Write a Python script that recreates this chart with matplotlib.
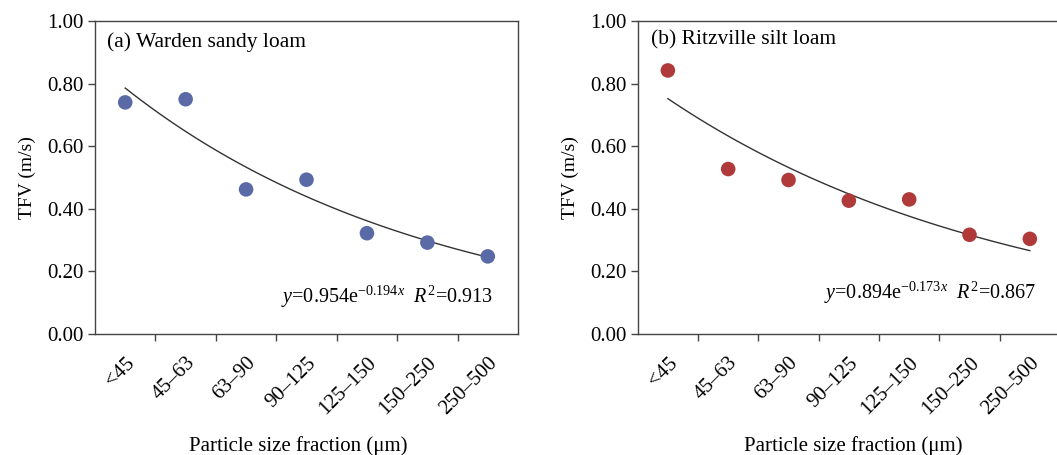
import matplotlib
matplotlib.use("Agg")
import matplotlib.pyplot as plt
import matplotlib.transforms as mtransforms
import numpy as np

plt.rcParams['font.family'] = ['Liberation Serif', 'DejaVu Serif']
plt.rcParams['mathtext.fontset'] = 'custom'
plt.rcParams['mathtext.rm'] = 'Liberation Serif'
plt.rcParams['mathtext.it'] = 'Liberation Serif:italic'

# data
size_fractions = ['<45', '45\u201363', '63\u201390', '90\u2013125', '125\u2013150', '150\u2013250', '250\u2013500']
tfv_warden = [0.740, 0.750, 0.462, 0.493, 0.322, 0.292, 0.248]
tfv_ritzville = [0.842, 0.527, 0.492, 0.426, 0.430, 0.317, 0.304]

# exponential fit parameters shown on the chart: y = a * exp(b * x)
fit_warden = (0.954, -0.194, 0.913)
fit_ritzville = (0.894, -0.173, 0.867)

yticks = [0.0, 0.2, 0.4, 0.6, 0.8, 1.0]

fig = plt.figure(figsize=(10.57, 4.55), dpi=100)
ax1 = fig.add_axes([95/1057, 121/455, 423/1057, 313/455])
ax2 = fig.add_axes([637.7/1057, 121/455, 422.3/1057, 313/455])

panels = [
    (ax1, tfv_warden, fit_warden, '#5a6aa6', '(a) Warden sandy loam', (0.028, 0.933), (0.94, 0.119), 0.48),
    (ax2, tfv_ritzville, fit_ritzville, '#b03a3a', '(b) Ritzville silt loam', (0.031, 0.94), (0.944, 0.131), 0.51),
]

shift = mtransforms.ScaledTranslation(11/100, 0, fig.dpi_scale_trans)

for ax, vals, fit, color, title, tpos, epos, xlx in panels:
    n = len(size_fractions)
    x = np.arange(1, n + 1)
    xc = x - 0.5
    a, b, r2 = fit
    xf = np.linspace(1, n, 100)
    ax.plot(xf - 0.5, a * np.exp(b * xf), color='#333333', lw=1.0, zorder=2)
    ax.scatter(xc, vals, s=110, color=color, edgecolors='none', zorder=3)

    ax.set_xlim(0, n)
    ax.set_ylim(0, 1.0)
    ax.set_yticks(yticks)
    ax.set_yticklabels(['%.2f' % v for v in yticks], fontsize=15)
    ax.set_xticks(np.arange(1, n))
    ax.set_xticklabels([])
    ax.set_xticks(xc, minor=True)
    ax.set_xticklabels(size_fractions, minor=True, rotation=45, ha='right',
                       va='top', rotation_mode='anchor', fontsize=15)
    for lbl in ax.get_xticklabels(minor=True):
        lbl.set_transform(lbl.get_transform() + shift)
    ax.tick_params(axis='x', which='minor', length=0, pad=14)
    ax.tick_params(axis='both', which='major', direction='out', length=5, width=1, color='#444444')
    ax.tick_params(axis='y', pad=3)
    for s in ax.spines.values():
        s.set_color('#444444')
        s.set_linewidth(1.0)

    ax.set_ylabel('TFV (m/s)', fontsize=14, labelpad=8)
    ax.set_xlabel('Particle size fraction (\u03bcm)', fontsize=15)
    ax.xaxis.set_label_coords(xlx, -0.325)

    ax.text(tpos[0], tpos[1], title, transform=ax.transAxes, fontsize=15.5,
            ha='left', va='center')
    eq = '$y$=%.3fe$^{-%.3f\\mathit{x}}$  $R^2$=%.3f' % (a, -b, r2)
    ax.text(epos[0], epos[1], eq, transform=ax.transAxes, fontsize=14.5,
            ha='right', va='center')

fig.savefig('out.png', dpi=100)
